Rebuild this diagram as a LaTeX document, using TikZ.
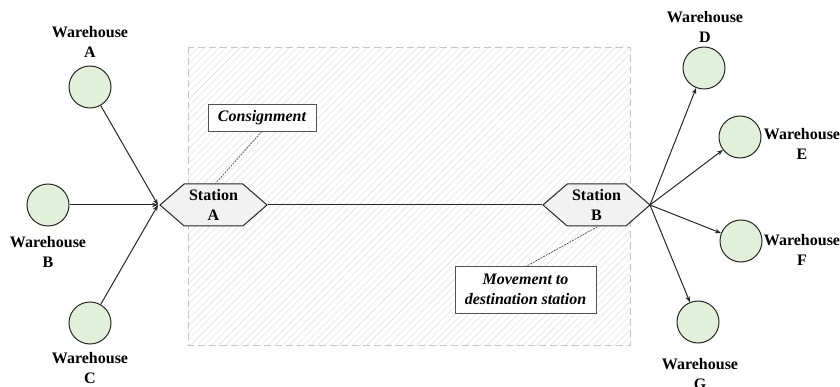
\documentclass[tikz,border=0pt]{standalone}
\usepackage{fontspec}
\setmainfont{Liberation Serif}
\usetikzlibrary{arrows.meta,shapes.symbols,patterns.meta}
\definecolor{wfill}{HTML}{E2EFDA}
\definecolor{sfill}{HTML}{F2F2F2}
\definecolor{edge}{HTML}{262626}
\tikzset{
  wh/.style={circle,draw=edge,line width=1pt,fill=wfill,minimum size=42pt,inner sep=0pt},
  lbl/.style={font=\fontsize{16}{20}\selectfont\bfseries,align=center,inner sep=0pt,text=black},
  station/.style={signal,signal to=west and east,signal pointer angle=82,draw=edge,line width=1pt,fill=sfill,minimum width=107pt,minimum height=42pt,inner sep=0pt,font=\fontsize{16}{20}\selectfont\bfseries,align=center},
  note/.style={draw=edge!80,line width=0.7pt,fill=white,font=\fontsize{16}{20}\selectfont\bfseries\itshape,align=center,inner sep=0pt},
  conn/.style={draw=edge,line width=1pt},
  arr/.style={conn,-{Stealth[length=6pt,width=4.5pt]}},
  callout/.style={draw=edge!80,line width=0.7pt,dash pattern=on 2pt off 1pt}
}
\begin{document}
\begin{tikzpicture}[x=1pt,y=-1pt]
\useasboundingbox (0,0) rectangle (840,387);
% region
\path[pattern={Lines[angle=45,distance=5pt,line width=0.4pt]},pattern color=gray!28] (188,47) rectangle (630,345);
\draw[draw=gray!45,line width=0.8pt,dash pattern=on 7pt off 4pt] (188,47) rectangle (630,345);
% warehouses
\node[wh] (wa) at (90,87) {};
\node[wh] (wb) at (48,205) {};
\node[wh] (wc) at (90,323) {};
\node[wh] (wd) at (704,68) {};
\node[wh] (we) at (740,137) {};
\node[wh] (wf) at (741,241) {};
\node[wh] (wg) at (698,322) {};
\node[lbl] (la) at (90,42) {Warehouse\\A};
\node[lbl] (lb) at (48,252) {Warehouse\\B};
\node[lbl] (lc) at (90,368) {Warehouse\\C};
\node[lbl] (ld) at (705,27) {Warehouse\\D};
\node[lbl] (le) at (802,144) {Warehouse\\E};
\node[lbl] (lf) at (802,250) {Warehouse\\F};
\node[lbl] (lg) at (700,374) {Warehouse\\G};
% stations
\node[station] (sa) at (213.5,205) {Station\\A};
\node[station] (sb) at (596.5,205) {Station\\B};
\coordinate (hub) at (158,205);
\coordinate (out) at (650,205);
\draw[conn] (sa.east) -- (sb.west);
\draw[arr] (wa) -- (hub);
\draw[arr] (wb) -- (hub);
\draw[arr] (wc) -- (hub);
\draw[arr] (out) -- (wd);
\draw[arr] (out) -- (we);
\draw[arr] (out) -- (wf);
\draw[arr] (out) -- (wg);
% notes
\node[note,minimum width=108pt,minimum height=27pt] (cons) at (262,117.5) {Consignment};
\node[note,minimum width=141pt,minimum height=47pt] (move) at (525.5,289.5) {Movement to\\destination station};
\coordinate (ca) at (215,184);
\coordinate (cb) at (597,227);
\draw[callout] (cons.south) -- (ca);
\draw[callout] (move.north) ++(2,0) coordinate (mn) (mn) -- (cb);
\end{tikzpicture}
\end{document}
